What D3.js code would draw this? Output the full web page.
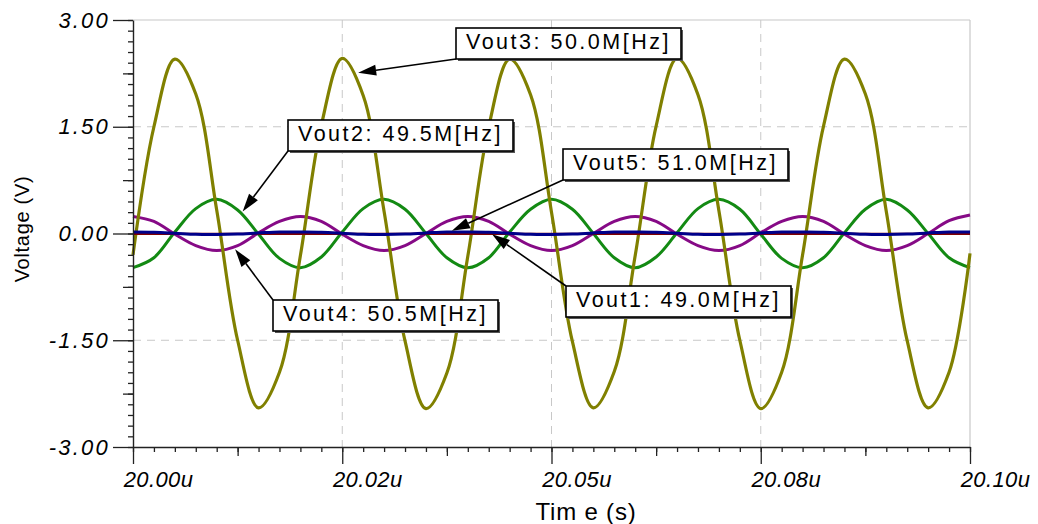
<!DOCTYPE html>
<html>
<head>
<meta charset="utf-8">
<script src="https://cdn.jsdelivr.net/npm/d3@7"></script>
<style>
  body { margin: 0; background: #fff; }
  svg { display: block; font-family: "Liberation Sans", Arial, sans-serif; }
</style>
</head>
<body>
<div id="chart"></div>
<script>
// Time samples in microseconds (every 2.5 ns)
var times = [20.0000, 20.0025, 20.0050, 20.0075, 20.0100, 20.0125, 20.0150, 20.0175,
             20.0200, 20.0225, 20.0250, 20.0275, 20.0300, 20.0325, 20.0350, 20.0375,
             20.0400, 20.0425, 20.0450, 20.0475, 20.0500, 20.0525, 20.0550, 20.0575,
             20.0600, 20.0625, 20.0650, 20.0675, 20.0700, 20.0725, 20.0750, 20.0775,
             20.0800, 20.0825, 20.0850, 20.0875, 20.0900, 20.0925, 20.0950, 20.0975,
             20.1000];

// Vout1: 49.0M[Hz]  (dark red, almost flat)
var vout1 = [-0.004, -0.005, -0.004, -0.005, -0.005, -0.004, -0.005, -0.004,
             -0.005, -0.004, -0.005, -0.005, -0.004, -0.005, -0.004, -0.005,
             -0.005, -0.004, -0.005, -0.004, -0.005, -0.005, -0.004, -0.005,
             -0.004, -0.005, -0.005, -0.004, -0.005, -0.004, -0.005, -0.005,
             -0.004, -0.005, -0.004, -0.005, -0.005, -0.004, -0.005, -0.004,
             -0.005];

// Vout2: 49.5M[Hz]  (green)
var vout2 = [-0.48, -0.34, 0.02, 0.35, 0.48, 0.33, -0.01, -0.35,
             -0.48, -0.33, 0.02, 0.35, 0.48, 0.34, 0.00, -0.34,
             -0.48, -0.34, 0.02, 0.34, 0.48, 0.34, 0.00, -0.34,
             -0.48, -0.33, 0.01, 0.35, 0.48, 0.34, -0.01, -0.35,
             -0.48, -0.34, 0.01, 0.34, 0.48, 0.33, 0.00, -0.34,
             -0.48];

// Vout3: 50.0M[Hz]  (olive)
var vout3 = [-0.30, 1.50, 2.45, 1.96, 0.33, -1.50, -2.45, -1.95,
             -0.31, 1.52, 2.46, 1.94, 0.31, -1.51, -2.46, -1.96,
             -0.32, 1.50, 2.45, 1.95, 0.30, -1.52, -2.45, -1.94,
             -0.31, 1.51, 2.46, 1.95, 0.32, -1.50, -2.46, -1.95,
             -0.30, 1.51, 2.45, 1.96, 0.31, -1.51, -2.45, -1.95,
             -0.28];

// Vout4: 50.5M[Hz]  (purple)
var vout4 = [0.24, 0.17, -0.01, -0.17, -0.24, -0.17, 0.01, 0.17,
             0.24, 0.17, -0.01, -0.17, -0.24, -0.17, 0.00, 0.17,
             0.24, 0.17, -0.01, -0.17, -0.24, -0.17, 0.00, 0.17,
             0.24, 0.17, -0.01, -0.17, -0.24, -0.17, 0.01, 0.17,
             0.24, 0.17, -0.01, -0.17, -0.24, -0.17, 0.00, 0.18,
             0.26];

// Vout5: 51.0M[Hz]  (navy, almost flat)
var vout5 = [0.020, 0.016, 0.003, -0.012, -0.014, -0.008, 0.008, 0.022,
             0.020, 0.016, 0.003, -0.012, -0.014, -0.008, 0.008, 0.022,
             0.020, 0.016, 0.003, -0.012, -0.014, -0.008, 0.008, 0.022,
             0.020, 0.016, 0.003, -0.012, -0.014, -0.008, 0.008, 0.022,
             0.020, 0.016, 0.003, -0.012, -0.014, -0.008, 0.008, 0.022,
             0.020];

// Axis ticks and labels
var xTicks = [20.000, 20.025, 20.050, 20.075, 20.100];
var xTickLabels = ["20.00u", "20.02u", "20.05u", "20.08u", "20.10u"];
var yTicks = [3.0, 1.5, 0.0, -1.5, -3.0];
var yTickLabels = ["3.00", "1.50", "0.00", "-1.50", "-3.00"];

// Annotation texts and the point each arrow points at
var labelTexts = ["Vout3: 50.0M[Hz]", "Vout2: 49.5M[Hz]", "Vout5: 51.0M[Hz]", "Vout1: 49.0M[Hz]", "Vout4: 50.5M[Hz]"];
var labelTipTime = [20.0269, 20.0131, 20.0381, 20.0429, 20.0122];
var labelTipValue = [2.26, 0.31, 0.04, -0.01, -0.22];

// Layout
var W = 1038, H = 524;
var plot = { left: 133, right: 970, top: 20, bottom: 447 };

var svg = d3.select("#chart").append("svg")
    .attr("width", W)
    .attr("height", H);

var x = d3.scaleLinear().domain([20.0, 20.1]).range([plot.left, plot.right]);
var y = d3.scaleLinear().domain([-3, 3]).range([plot.bottom, plot.top]);

// Grid
var gridColor = "#c8c8c8";
svg.append("g").selectAll("line")
    .data(xTicks.slice(1, -1))
    .enter().append("line")
    .attr("x1", function (d) { return x(d); })
    .attr("x2", function (d) { return x(d); })
    .attr("y1", plot.top)
    .attr("y2", plot.bottom)
    .attr("stroke", gridColor)
    .attr("stroke-width", 1)
    .attr("stroke-dasharray", "8,6");

svg.append("g").selectAll("line")
    .data(yTicks.slice(1, -1))
    .enter().append("line")
    .attr("x1", plot.left)
    .attr("x2", plot.right)
    .attr("y1", function (d) { return y(d); })
    .attr("y2", function (d) { return y(d); })
    .attr("stroke", gridColor)
    .attr("stroke-width", 1)
    .attr("stroke-dasharray", "8,6");

// Top and right frame
svg.append("line")
    .attr("x1", plot.left).attr("x2", plot.right)
    .attr("y1", plot.top).attr("y2", plot.top)
    .attr("stroke", gridColor).attr("stroke-width", 1.2);
svg.append("line")
    .attr("x1", plot.right).attr("x2", plot.right)
    .attr("y1", plot.top).attr("y2", plot.bottom)
    .attr("stroke", gridColor).attr("stroke-width", 1.2);

// Traces
var series = [
    { values: vout2, color: "#138a13", width: 3 },
    { values: vout4, color: "#860a86", width: 3 },
    { values: vout3, color: "#808000", width: 3.2 },
    { values: vout1, color: "#800000", width: 2.2 },
    { values: vout5, color: "#00008a", width: 3 }
];

var line = d3.line()
    .x(function (d) { return x(d[0]); })
    .y(function (d) { return y(d[1]); })
    .curve(d3.curveCatmullRom.alpha(0.5));

series.forEach(function (s) {
    svg.append("path")
        .datum(times.map(function (t, i) { return [t, s.values[i]]; }))
        .attr("fill", "none")
        .attr("stroke", s.color)
        .attr("stroke-width", s.width)
        .attr("stroke-linejoin", "round")
        .attr("d", line);
});

// Minor tick positions
var yMinor = d3.range(0, 41).map(function (i) { return -3 + i * 0.15; });
var yMid = [-2.25, -0.75, 0.75, 2.25];
var xMinor = d3.range(0, 41).map(function (i) { return 20 + i * 0.0025; });
var xMid = [20.0125, 20.0375, 20.0625, 20.0875];

var axisColor = "#222";

function styleAxis(g) {
    g.select(".domain").attr("stroke", axisColor).attr("stroke-width", 1.4);
    g.selectAll(".tick line").attr("stroke", axisColor).attr("stroke-width", 1.3);
}

// Y axis
svg.append("g")
    .attr("transform", "translate(" + plot.left + ",0)")
    .call(d3.axisLeft(y).tickValues(yMinor).tickSize(5).tickFormat("").tickSizeOuter(0))
    .call(styleAxis);
svg.append("g")
    .attr("transform", "translate(" + plot.left + ",0)")
    .call(d3.axisLeft(y).tickValues(yMid).tickSize(10).tickFormat("").tickSizeOuter(0))
    .call(styleAxis)
    .select(".domain").remove();
var yAxis = svg.append("g")
    .attr("transform", "translate(" + plot.left + ",0)")
    .call(d3.axisLeft(y).tickValues(yTicks).tickSize(20).tickPadding(3).tickSizeOuter(0)
        .tickFormat(function (d, i) { return yTickLabels[i]; }))
    .call(styleAxis);
yAxis.select(".domain").remove();
yAxis.selectAll("text")
    .attr("font-family", "'Liberation Sans', Arial, sans-serif")
    .attr("font-size", 22)
    .attr("font-style", "italic")
    .attr("letter-spacing", 2.2)
    .attr("fill", "#000");

// X axis
svg.append("g")
    .attr("transform", "translate(0," + plot.bottom + ")")
    .call(d3.axisBottom(x).tickValues(xMinor).tickSize(5).tickFormat("").tickSizeOuter(0))
    .call(styleAxis);
svg.append("g")
    .attr("transform", "translate(0," + plot.bottom + ")")
    .call(d3.axisBottom(x).tickValues(xMid).tickSize(9).tickFormat("").tickSizeOuter(0))
    .call(styleAxis)
    .select(".domain").remove();
var xAxis = svg.append("g")
    .attr("transform", "translate(0," + plot.bottom + ")")
    .call(d3.axisBottom(x).tickValues(xTicks).tickSize(17).tickPadding(7).tickSizeOuter(0)
        .tickFormat(function (d, i) { return xTickLabels[i]; }))
    .call(styleAxis);
xAxis.select(".domain").remove();
xAxis.selectAll("text")
    .attr("font-family", "'Liberation Sans', Arial, sans-serif")
    .attr("font-size", 22)
    .attr("font-style", "italic")
    .attr("letter-spacing", 0.4)
    .attr("dx", 25)
    .attr("fill", "#000");

// Axis titles
svg.append("text")
    .attr("transform", "translate(29," + 229 + ")rotate(-90)")
    .attr("text-anchor", "middle")
    .attr("font-size", 20)
    .attr("letter-spacing", 0.7)
    .attr("fill", "#000")
    .text("Voltage (V)");

svg.append("text")
    .attr("x", 586)
    .attr("y", 520)
    .attr("text-anchor", "middle")
    .attr("font-size", 24)
    .attr("letter-spacing", 0.8)
    .attr("fill", "#000")
    .text("Tim e (s)");

// Annotation boxes: box top-left corner and which corner the arrow leaves from
var boxPos = [
    { x: 456, y: 28, corner: "bottom" },
    { x: 288, y: 120, corner: "bottom" },
    { x: 563, y: 149, corner: "bottom" },
    { x: 566, y: 286, corner: "top" },
    { x: 273, y: 300, corner: "top" }
];
var boxW = 225, boxH = 31;

var labels = svg.append("g");

labelTexts.forEach(function (txt, i) {
    var b = boxPos[i];
    var sx = b.x, sy = b.corner === "bottom" ? b.y + boxH : b.y;
    var tx = x(labelTipTime[i]), ty = y(labelTipValue[i]);

    // Arrow shaft and head
    var ang = Math.atan2(ty - sy, tx - sx);
    var headLen = 18, headHalf = 5.5;
    var bx = tx - headLen * Math.cos(ang), by = ty - headLen * Math.sin(ang);
    labels.append("line")
        .attr("x1", sx).attr("y1", sy)
        .attr("x2", bx).attr("y2", by)
        .attr("stroke", "#000")
        .attr("stroke-width", 1.6);
    labels.append("path")
        .attr("d", "M" + tx + "," + ty +
            "L" + (bx + headHalf * Math.sin(ang)) + "," + (by - headHalf * Math.cos(ang)) +
            "L" + (bx - headHalf * Math.sin(ang)) + "," + (by + headHalf * Math.cos(ang)) + "Z")
        .attr("fill", "#000");

    // Box with shadow
    labels.append("rect")
        .attr("x", b.x + 2).attr("y", b.y + 2)
        .attr("width", boxW).attr("height", boxH)
        .attr("fill", "#555");
    labels.append("rect")
        .attr("x", b.x).attr("y", b.y)
        .attr("width", boxW).attr("height", boxH)
        .attr("fill", "#fff")
        .attr("stroke", "#000")
        .attr("stroke-width", 1.6);
    labels.append("text")
        .attr("x", b.x + 10)
        .attr("y", b.y + 21)
        .attr("font-size", 21.5)
        .attr("letter-spacing", 2.5)
        .attr("fill", "#000")
        .text(txt);
});
</script>
</body>
</html>
